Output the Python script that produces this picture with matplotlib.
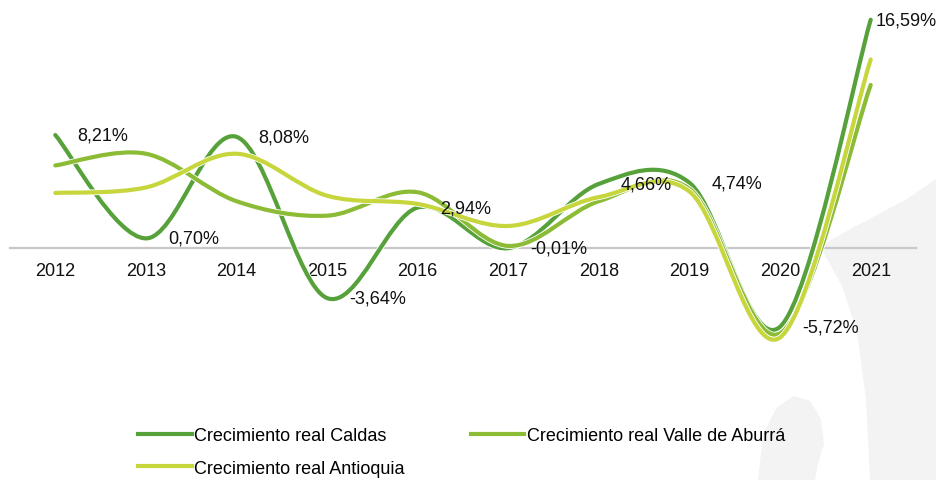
import matplotlib
matplotlib.use("Agg")
from matplotlib import pyplot as plt
from matplotlib.path import Path
from matplotlib.patches import PathPatch, Polygon
from matplotlib.lines import Line2D
import matplotlib.patheffects as pe

plt.rcParams['font.family'] = ['Liberation Sans', 'DejaVu Sans']

# datos (crecimiento real, %)
years = ['2012', '2013', '2014', '2015', '2016', '2017', '2018', '2019', '2020', '2021']
caldas = [8.21, 0.70, 8.08, -3.64, 2.94, -0.01, 4.66, 4.74, -5.72, 16.59]
valle = [6.0, 6.85, 3.4, 2.35, 4.05, 0.15, 3.4, 4.3, -6.2, 11.85]
antioquia = [4.0, 4.4, 6.85, 3.8, 3.2, 1.6, 3.7, 4.1, -6.5, 13.7]

labels = ['Crecimiento real Caldas', 'Crecimiento real Valle de Aburrá', 'Crecimiento real Antioquia']
colors = ['#56A13A', '#8CBB35', '#C6D63C']


def smooth_path(xs, ys):
    # curva suavizada tipo Excel (Bezier cubica por segmento)
    n = len(xs)
    verts = [(xs[0], ys[0])]
    codes = [Path.MOVETO]
    for i in range(n - 1):
        i0 = max(i - 1, 0)
        i3 = min(i + 2, n - 1)
        c1 = (xs[i] + (xs[i + 1] - xs[i0]) / 6, ys[i] + (ys[i + 1] - ys[i0]) / 6)
        c2 = (xs[i + 1] - (xs[i3] - xs[i]) / 6, ys[i + 1] - (ys[i3] - ys[i]) / 6)
        verts += [c1, c2, (xs[i + 1], ys[i + 1])]
        codes += [Path.CURVE4] * 3
    return Path(verts, codes)


fig = plt.figure(figsize=(9.36, 4.81), dpi=100)

# figura decorativa gris del fondo
W, H = 936.0, 481.0
big = [(820, 247), (860, 225), (907, 200), (936, 180), (936, 481), (870, 481),
       (866, 400), (857, 333), (842, 287), (826, 258)]
blob = [(758, 481), (763, 435), (777, 408), (794, 397), (810, 402), (821, 420),
        (824, 445), (818, 465), (815, 481)]
for pts in (big, blob):
    fig.patches.append(Polygon([(x / W, 1 - y / H) for x, y in pts], closed=True,
                               transform=fig.transFigure, facecolor='#F3F3F3',
                               edgecolor='none', zorder=-5))

ax = fig.add_axes([10 / W, 1 - 380 / H, 906 / W, 375 / H])
ax.patch.set_alpha(0)

xs = list(range(len(years)))
for serie, col in zip([caldas, valle, antioquia], colors):
    patch = PathPatch(smooth_path(xs, serie), facecolor='none', edgecolor=col,
                      linewidth=3.0, capstyle='round', zorder=3)
    patch.set_path_effects([pe.Stroke(linewidth=4.2, foreground='white'), pe.Normal()])
    ax.add_patch(patch)

# etiquetas de datos de Caldas
for i, v in enumerate(caldas):
    txt = f"{v:.2f}%".replace('.', ',')
    dx = 16 if i < len(caldas) - 1 else 3.5
    ax.annotate(txt, (i, v), xytext=(dx, 0), textcoords='offset points',
                ha='left', va='center', fontsize=13, color='#111111', zorder=5)

ax.set_xlim(-0.5, 9.5)
ax.set_ylim(-(380 - 249) / 13.76, (249 - 5) / 13.76)
ax.set_xticks(xs)
ax.set_xticklabels(years)
ax.set_yticks([])
for s in ['left', 'right', 'top']:
    ax.spines[s].set_visible(False)
ax.spines['bottom'].set_position(('data', 0))
ax.spines['bottom'].set_color('#C8C8C8')
ax.spines['bottom'].set_linewidth(1.6)
ax.spines['bottom'].set_zorder(1)
ax.tick_params(axis='x', length=0, pad=10, labelsize=13, labelcolor='#111111')

# leyenda (orden para que quede por filas)
handles = [Line2D([], [], color=c, linewidth=3.0) for c in colors]
order = [0, 2, 1]
fig.legend([handles[i] for i in order], [labels[i] for i in order],
           ncol=2, loc='upper left', bbox_to_anchor=(124 / W, 1 - 414 / H),
           frameon=False, fontsize=13, handlelength=2.95, handletextpad=0.12,
           columnspacing=3.7, labelspacing=0.85, borderpad=0.3)

fig.savefig('out.png', dpi=100)
